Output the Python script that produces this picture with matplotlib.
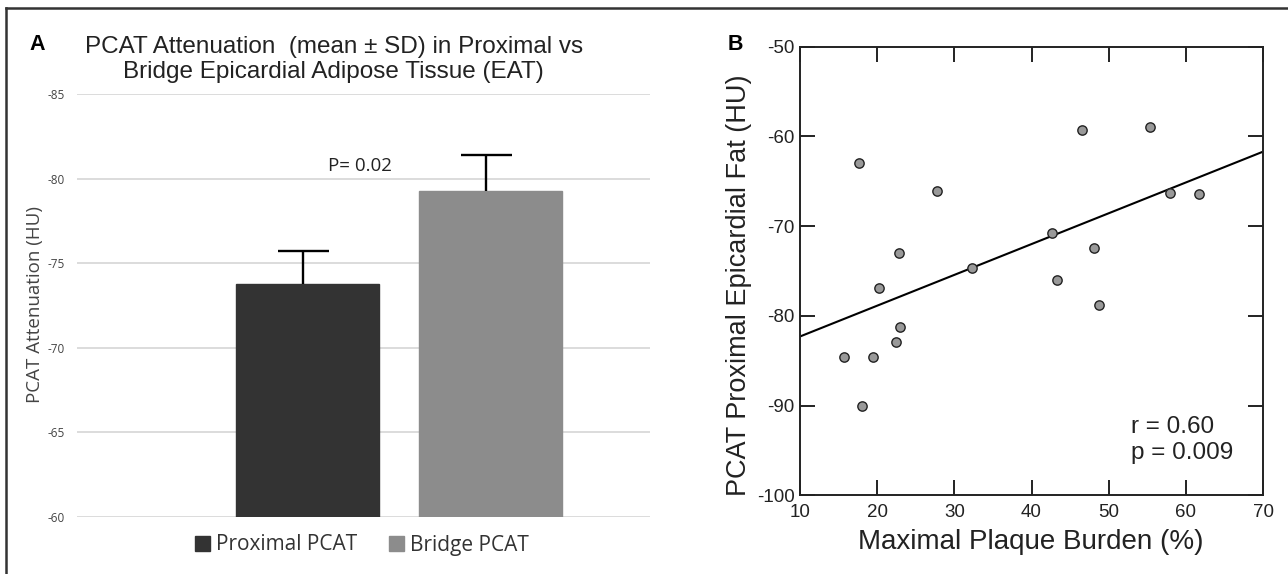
import matplotlib
matplotlib.use("Agg")
import matplotlib.pyplot as plt
from matplotlib.lines import Line2D
import numpy as np

plt.rcParams['axes.unicode_minus'] = False

# ---------------- data ----------------
# Panel A
groups = ["Proximal PCAT", "Bridge PCAT"]
means = [-73.8, -79.3]
sds = [1.9, 2.1]
bar_colors = ["#333333", "#8c8c8c"]
a_yticks = [-85, -80, -75, -70, -65, -60]
p_text = "P= 0.02"

# Panel B
plaque_burden = [17.7, 27.8, 46.6, 55.4, 57.9, 61.7, 42.7, 48.1, 22.8,
                 32.3, 43.3, 20.2, 48.7, 22.9, 22.5, 15.7, 19.4, 18.0]
pcat_prox = [-63.0, -66.1, -59.3, -59.0, -66.3, -66.4, -70.8, -72.4, -73.0,
             -74.7, -76.0, -76.9, -78.8, -81.2, -82.9, -84.6, -84.6, -90.0]
fit_x = [10, 70]
fit_y = [-82.3, -61.7]
b_xticks = [10, 20, 30, 40, 50, 60, 70]
b_yticks = [-50, -60, -70, -80, -90, -100]
stats_text = "r = 0.60\np = 0.009"

W, H = 1288, 574
fig = plt.figure(figsize=(W / 100, H / 100), dpi=100)

def fx(px):
    return px / W

def fy(py):
    return 1 - py / H

# frame lines (top and left)
fig.add_artist(Line2D([fx(6), 1.0], [fy(8), fy(8)], color="#333333", lw=1.8))
fig.add_artist(Line2D([fx(6), fx(6)], [fy(8), 0.0], color="#333333", lw=1.8))

# ---------------- Panel A ----------------
axA = fig.add_axes([fx(77), fy(516.7), fx(650) - fx(77), fy(94.3) - fy(516.7)])
xpos = np.arange(len(groups))
bw = 0.781
bars = []
for i in range(len(groups)):
    b = axA.bar(xpos[i], means[i] - (-60), bottom=-60, width=bw,
                color=bar_colors[i], edgecolor=bar_colors[i], zorder=3,
                label=groups[i])
    bars.append(b)
    top = means[i] - sds[i]
    axA.vlines(xpos[i] - 0.02, means[i], top, color="black", lw=1.7, zorder=4)
    axA.hlines(top, xpos[i] - 0.02 - 0.14, xpos[i] - 0.02 + 0.14,
               color="black", lw=1.7, zorder=4)

axA.set_ylim(-60, -85)
axA.set_xlim(-1.257, 1.874)
axA.set_yticks(a_yticks)
axA.set_yticklabels([str(v) for v in a_yticks], fontsize=8.5, color="#444444",
                    family="Open Sans")
axA.tick_params(axis="y", length=0, pad=9)
axA.set_xticks([])
axA.yaxis.grid(True, color="#d9d9d9", lw=1.3, zorder=0)
for s in axA.spines.values():
    s.set_visible(False)
axA.set_ylabel("PCAT Attenuation (HU)", fontsize=13.5, color="#444444",
               family="Open Sans")
axA.yaxis.set_label_coords((35 - 77) / 573, (516.7 - 305) / 422.4)
axA.yaxis.label.set_va("center")
axA.text(0.115, -80.76, p_text, ha="left", va="center", fontsize=13.5,
         family="Open Sans", color="#222222")

leg = axA.legend(handles=[b[0] for b in bars], labels=groups,
                 loc="center", bbox_to_anchor=(fx(362), fy(545)),
                 bbox_transform=fig.transFigure, ncol=2, frameon=False,
                 prop={"family": "Open Sans", "size": 15},
                 handlelength=0.72, handleheight=0.72, handletextpad=0.3,
                 columnspacing=1.5)
for t in leg.get_texts():
    t.set_color("#333333")

fig.text(fx(334.5), fy(47), "PCAT Attenuation  (mean \u00b1 SD) in Proximal vs",
         ha="center", va="center", fontsize=17.5, family="Liberation Sans",
         color="#222222")
fig.text(fx(333.5), fy(72), "Bridge Epicardial Adipose Tissue (EAT)",
         ha="center", va="center", fontsize=17.5, family="Liberation Sans",
         color="#222222")
fig.text(fx(37), fy(45), "A", ha="center", va="center", fontsize=15.5,
         fontweight="bold", family="Liberation Sans")

# ---------------- Panel B ----------------
axB = fig.add_axes([fx(800), fy(495.3), fx(1263) - fx(800), fy(46.7) - fy(495.3)])
axB.scatter(plaque_burden, pcat_prox, s=45, facecolor="#999999",
            edgecolor="#222222", linewidth=1.0, zorder=3)
axB.plot(fit_x, fit_y, color="black", lw=1.5, zorder=2)
axB.set_xlim(10, 70)
axB.set_ylim(-100, -50)
axB.set_xticks(b_xticks)
axB.set_yticks(b_yticks)
axB.set_xticklabels([str(v) for v in b_xticks], family="Liberation Sans",
                    fontsize=13.5, color="#222222")
axB.set_yticklabels([str(v) for v in b_yticks], family="Liberation Sans",
                    fontsize=13.5, color="#222222")
axB.tick_params(direction="in", length=11, width=1.4, top=True, right=True,
                color="#222222")
axB.tick_params(axis="x", pad=6)
axB.tick_params(axis="y", pad=4)
for s in axB.spines.values():
    s.set_linewidth(1.4)
    s.set_color("#222222")
axB.set_xlabel("Maximal Plaque Burden (%)", fontsize=20,
               family="Liberation Sans", color="#222222")
axB.xaxis.set_label_coords((1031 - 800) / 463, (495.3 - 542) / 448.6)
axB.set_ylabel("PCAT Proximal Epicardial Fat (HU)", fontsize=19.5,
               family="Liberation Sans", color="#222222")
axB.yaxis.set_label_coords((739 - 800) / 463, (495.3 - 285) / 448.6)
axB.xaxis.label.set_va("center")
axB.yaxis.label.set_va("center")
axB.text(0.715, 0.123, stats_text, transform=axB.transAxes, ha="left",
         va="center", fontsize=17.5, family="Liberation Sans", color="#222222",
         linespacing=1.25)
fig.text(fx(735), fy(45), "B", ha="center", va="center", fontsize=15.5,
         fontweight="bold", family="Liberation Sans")

fig.savefig("out.png", dpi=100)
